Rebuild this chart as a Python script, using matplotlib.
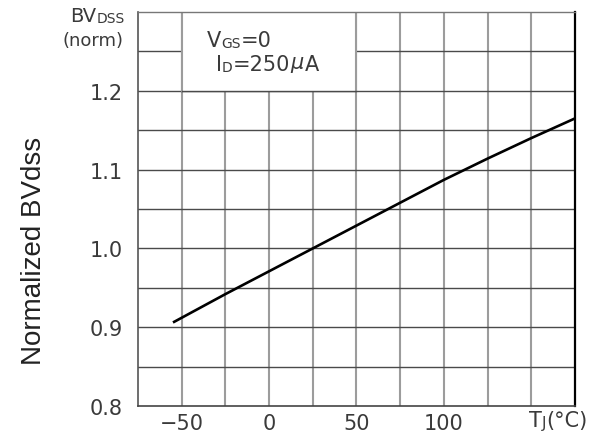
"""Normalized breakdown voltage BVdss vs junction temperature (datasheet style)."""
import numpy as np
import matplotlib
matplotlib.use("Agg")
import matplotlib.pyplot as plt
from matplotlib.patches import Rectangle

plt.rcParams["font.family"] = ["DejaVu Sans"]
plt.rcParams["axes.unicode_minus"] = True

# data
temp_c = [-55, -25, 0, 25, 50, 75, 100, 125, 150, 175]
bv_norm = [0.906, 0.942, 0.971, 1.000, 1.029, 1.058, 1.087, 1.114, 1.140, 1.165]

x_labelled = [-50, 0, 50, 100]
y_labelled = [0.8, 0.9, 1.0, 1.1, 1.2]
x_grid = np.arange(-50, 175, 25)
y_grid = np.arange(0.85, 1.30, 0.05)

TXT = "#3a3a3a"
VGRID = "#9c9c9c"
HGRID = "#4a4a4a"

fig = plt.figure(figsize=(5.97, 4.35), dpi=100)
ax = fig.add_axes([0.2312, 0.0644, 0.7319, 0.9056])
ax.set_xlim(-75, 175)
ax.set_ylim(0.8, 1.3)

# grid
for xv in x_grid:
    ax.axvline(xv, color=VGRID, lw=1.5, zorder=1)
for yv in y_grid:
    ax.axhline(yv, color=HGRID, lw=1.0, zorder=1)

# white legend box blanking the grid
ax.add_patch(Rectangle((-50, 1.2), 100, 0.1, facecolor="white",
                       edgecolor="none", zorder=1.5))
ax.plot([-50, -50], [1.2, 1.3], color=VGRID, lw=1.5, zorder=1.6)
ax.plot([50, 50], [1.2, 1.3], color=VGRID, lw=1.5, zorder=1.6)
ax.plot([-50, 50], [1.2, 1.2], color=HGRID, lw=1.0, zorder=1.6)

ax.plot(temp_c, bv_norm, color="black", lw=1.9, zorder=3,
        solid_capstyle="butt")

# frame
for side, col, w in [("left", "#555555", 1.2), ("bottom", "#444444", 1.2),
                     ("right", "black", 1.6), ("top", "#777777", 1.0)]:
    ax.spines[side].set_color(col)
    ax.spines[side].set_linewidth(w)

ax.set_xticks(x_labelled)
ax.set_xticklabels([str(v).replace("-", "\u2212") for v in x_labelled])
ax.set_yticks(y_labelled)
ax.set_yticklabels([f"{v:.1f}" for v in y_labelled])
ax.tick_params(length=0, labelsize=15, labelcolor=TXT)
ax.tick_params(axis="y", pad=11)
ax.tick_params(axis="x", pad=5)

fig.text(34 / 597, 1 - 251 / 435, "Normalized BVdss", rotation=90,
         ha="center", va="center", fontsize=20, color="#222222",
         family=["Liberation Sans"])


def split_text(x, y, parts, trans):
    """Draw text made of (string, size) pieces side by side on a baseline."""
    t = ax.text(x, y, parts[0][0], fontsize=parts[0][1], color=TXT,
                transform=trans, ha="left", va="baseline")
    for s, size in parts[1:]:
        t = ax.annotate(s, xy=(1, 0), xycoords=t, fontsize=size, color=TXT,
                        ha="left", va="bottom", annotation_clip=False)
    return t


fig_tr = fig.transFigure
# y axis title at top left
split_text(70 / 597, 1 - 22 / 435, [("BV", 14), ("DSS", 10)], fig_tr)
fig.text(124 / 597, 1 - 46 / 435, "(norm)", fontsize=13, color=TXT,
         ha="right", va="baseline")

# x axis unit label
split_text(529 / 597, 1 - 427 / 435, [("T", 15), ("J", 11), ("(°C)", 15)],
           fig_tr)

# conditions in the box
split_text(207 / 597, 1 - 47 / 435, [("V", 15), ("GS", 10), ("=0", 15)], fig_tr)
split_text(216 / 597, 1 - 71 / 435,
           [("I", 15), ("D", 10), ("=250", 15), ("$\\mu$", 15), ("A", 15)],
           fig_tr)

fig.savefig("out.png", dpi=100)
